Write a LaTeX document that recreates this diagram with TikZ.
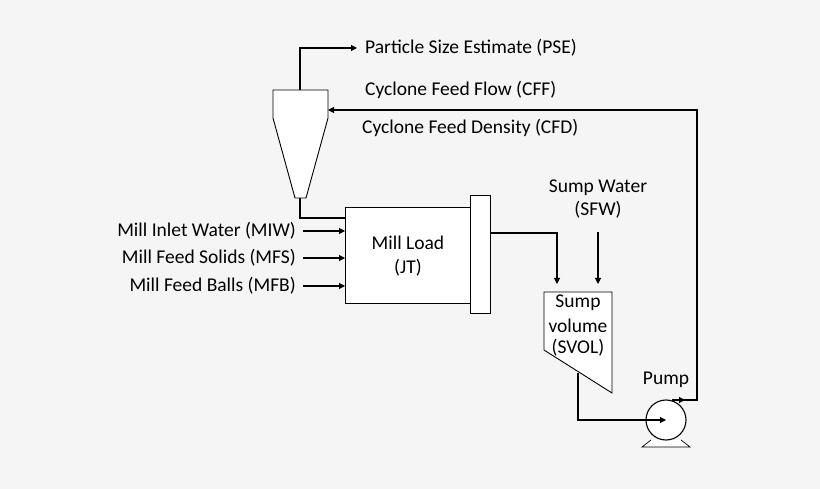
\documentclass[tikz,border=0pt]{standalone}
\usepackage{fontspec}
\setmainfont{Carlito}
\usetikzlibrary{arrows.meta}
\begin{document}
\begin{tikzpicture}[x=1pt,y=-1pt,
  ln/.style={line width=1.1pt},
  ar/.style={ln,-{Triangle[length=6pt,width=6pt]}},
  lbl/.style={font=\fontsize{19.5}{21}\selectfont,inner sep=0pt},
  shp/.style={line width=0.9pt,fill=white}]
\fill[white!96!black] (0,0) rectangle (820,489);
\useasboundingbox (0,0) rectangle (820,489);
% cyclone
\draw[shp] (273,90) -- (328,90) -- (328,118) -- (306,198) -- (295,198) -- (273,118) -- cycle;
\coordinate (cyctop) at (300,90);
\coordinate (cycbot) at (300,198);
\coordinate (cycin) at (328,110);
% mill
\draw[shp] (345,207) rectangle (470,303);
\draw[shp] (470,195) rectangle (490,313);
\node[lbl] (ml) at (408,243) {Mill Load};
\node[lbl] (jt) at (408,268) {(JT)};
% sump
\draw[shp] (544,292) -- (612,292) -- (612,393) -- (544,350) -- cycle;
\node[lbl] (s1) at (578,303) {Sump};
\node[lbl] (s2) at (578,326) {volume};
\node[lbl] (s3) at (578,348) {(SVOL)};
% pump
\draw[line width=0.7pt,fill=white] (651,440) -- (642,447) -- (690,447) -- (681,440);
\node[draw,circle,line width=1.1pt,fill=white,minimum size=40pt,inner sep=0pt] (pump) at (666,420) {};
\node[lbl] (pl) at (666,380) {Pump};
% labels
\node[lbl,anchor=west] (pse) at (365,48) {Particle Size Estimate (PSE)};
\node[lbl,anchor=west] (cff) at (365,90) {Cyclone Feed Flow (CFF)};
\node[lbl,anchor=west] (cfd) at (362,128) {Cyclone Feed Density (CFD)};
\node[lbl] (sw1) at (598,188) {Sump Water};
\node[lbl] (sw2) at (598,210) {(SFW)};
\node[lbl,anchor=east] (miw) at (296,231) {Mill Inlet Water (MIW)};
\node[lbl,anchor=east] (mfs) at (296,258) {Mill Feed Solids (MFS)};
\node[lbl,anchor=east] (mfb) at (296,286) {Mill Feed Balls (MFB)};
% connectors
\draw[ar] (cyctop) -- (300,48) -- (357,48);
\draw[ln] (cycbot) -- (300,218) -- (345,218);
\foreach \y in {231,258,286} \draw[ar] (303,\y) -- (345,\y);
\draw[ar] (490,233) -- (557,233) -- (557,284);
\draw[ar] (598,232) -- (598,284);
\draw[ar] (578,373) -- (578,420) -- (pump.center);
\draw[ln] (678,400) -- (697,400) -- (697,110) -- (330,110);
\draw[ar] (672,400) -- (685,400);
\draw[ar] (400,110) -- (cycin);
\end{tikzpicture}
\end{document}
